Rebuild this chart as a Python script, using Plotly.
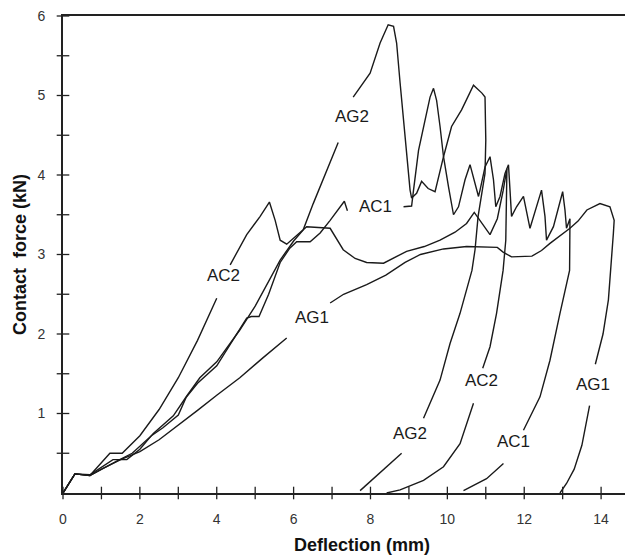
import plotly.graph_objects as go

# ---------------- data ----------------
# None marks a break in a line (where a label sits on the curve)
ac2_x = [0, 0.15, 0.31, 0.7, 1.0, 1.22, 1.54, 2.0, 2.5, 3.0, 3.5, 4.0, None,
         4.35, 4.78, 5.13, 5.37, 5.52, 5.65, 5.82, 6.04, 6.34, 6.95, 7.29, 7.6, 7.9,
         8.34, 8.94, 9.4, 9.81, 10.2, 10.5, 10.7, 10.9, 11.11, 11.3, 11.45, 11.55,
         11.54, 11.52, 11.45, 11.28, 11.11, 10.92, None,
         10.68, 10.33, 9.9, 9.38, 8.77, 8.42]
ac2_y = [0, 0.12, 0.24, 0.22, 0.38, 0.5, 0.5, 0.72, 1.05, 1.45, 1.92, 2.45, None,
         2.87, 3.25, 3.48, 3.66, 3.43, 3.18, 3.13, 3.22, 3.35, 3.33, 3.06, 2.95, 2.9,
         2.89, 3.04, 3.1, 3.18, 3.28, 3.39, 3.53, 3.4, 3.25, 3.45, 3.8, 4.08,
         3.81, 3.18, 2.8, 2.26, 1.84, 1.57, None,
         1.13, 0.62, 0.33, 0.16, 0.04, 0.0]

ag2_x = [0, 0.15, 0.31, 0.7, 1.0, 1.3, 1.66, 2.0, 2.35, 2.87, 3.22, 3.56, 4.0,
         4.6, 5.0, 5.3, 5.65, 6.0, 6.25, 6.51, 6.86, 7.16, None,
         7.55, 7.99, 8.25, 8.46, 8.6, 8.68, 8.77, 8.86, 8.95, 9.03, 9.07,
         9.2, 9.33, 9.5, 9.68, 9.81, 9.9, 10.11, 10.37, 10.68, 10.9, 10.98,
         11.0, 10.98, 10.8, 10.72, 10.64, 10.33, 10.07, 9.81, 9.38, None,
         8.81, 8.25, 7.73]
ag2_y = [0, 0.12, 0.24, 0.23, 0.33, 0.42, 0.42, 0.55, 0.75, 0.97, 1.22, 1.45, 1.65,
         2.05, 2.35, 2.62, 2.93, 3.17, 3.31, 3.64, 4.06, 4.41, None,
         4.98, 5.28, 5.66, 5.89, 5.87, 5.66, 5.16, 4.69, 4.2, 3.81, 3.71,
         3.77, 3.92, 3.83, 3.79, 4.06, 4.23, 4.61, 4.82, 5.13, 5.03, 4.98,
         4.44, 4.02, 3.48, 3.06, 2.8, 2.26, 1.88, 1.42, 0.94, None,
         0.5, 0.25, 0.03]

ac1_x = [0, 0.15, 0.31, 0.7, 1.0, 1.4, 1.8, 2.3, 2.6, 3.0, 3.2, 3.5, 4.0,
         4.78, 4.9, 5.1, 5.35, 5.65, 5.9, 6.08, 6.43, 6.69, 6.95, 7.2, 7.32, 7.4, None,
         8.86, 9.07, 9.12, 9.25, 9.42, 9.55, 9.64, 9.72, 9.81, 9.9, 10.03, 10.16,
         10.29, 10.46, 10.59, 10.72, 10.81, 10.85, 10.98, 11.11, 11.2, 11.26,
         11.37, 11.5, 11.59, 11.63, 11.67, 11.8, 11.98, 12.15, 12.33, 12.45,
         12.54, 12.58, 12.76, 12.89, 13.0, 13.06, 13.1, 13.19, 13.18,
         12.93, 12.67, 12.41, 11.98, None,
         11.46, 11.02, 10.42]
ac1_y = [0, 0.12, 0.24, 0.22, 0.3, 0.4, 0.5, 0.72, 0.82, 0.98, 1.2, 1.38, 1.6,
         2.2, 2.22, 2.22, 2.5, 2.9, 3.08, 3.16, 3.16, 3.27, 3.43, 3.6, 3.67, 3.55, None,
         3.6, 3.61, 3.81, 4.31, 4.69, 4.98, 5.09, 4.94, 4.61, 4.23, 3.85, 3.5,
         3.6, 3.94, 4.13, 3.9, 3.73, 3.81, 4.1, 4.23, 3.94, 3.6,
         3.73, 4.02, 4.13, 3.81, 3.48, 3.6, 3.73, 3.33, 3.6, 3.81,
         3.48, 3.18, 3.35, 3.6, 3.79, 3.56, 3.33, 3.45, 2.8,
         2.26, 1.67, 1.21, 0.79, None,
         0.37, 0.18, 0.03]

ag1_x = [0, 0.15, 0.31, 0.7, 1.0, 1.5, 2.0, 2.5, 3.0, 3.5, 4.0, 4.6, 5.2, 5.82, None,
         6.95, 7.3, 7.9, 8.4, 8.9, 9.3, 9.9, 10.5, 11.3, 11.45, 11.67, 12.2, 12.45,
         12.67, 13.19, 13.4, 13.63, 13.97, 14.23, 14.34, 14.32, 14.19, 14.05, 13.85, None,
         13.7, 13.5, 13.3, 13.1, 12.93]
ag1_y = [0, 0.12, 0.24, 0.22, 0.3, 0.42, 0.52, 0.67, 0.85, 1.04, 1.23, 1.45, 1.7, 1.95, None,
         2.39, 2.5, 2.62, 2.74, 2.9, 3.0, 3.07, 3.1, 3.09, 3.03, 2.97, 2.98, 3.05,
         3.14, 3.33, 3.42, 3.56, 3.64, 3.6, 3.43, 3.27, 2.43, 2.0, 1.62, None,
         1.1, 0.6, 0.3, 0.12, 0.0]

series = {"AC2": (ac2_x, ac2_y), "AG2": (ag2_x, ag2_y),
          "AC1": (ac1_x, ac1_y), "AG1": (ag1_x, ag1_y)}

# curve labels: text, x, y
label_text = ["AC2", "AG2", "AC1", "AG1", "AG2", "AC2", "AC1", "AG1"]
label_x = [4.17, 7.51, 8.12, 6.48, 9.03, 10.89, 11.72, 13.8]
label_y = [2.73, 4.73, 3.6, 2.21, 0.75, 1.42, 0.65, 1.36]

x_ticks = list(range(0, 15))
x_ticktext = [str(v) if v % 2 == 0 else "" for v in x_ticks]
y_ticks = [0.5 * i for i in range(1, 13)]
y_ticktext = [str(int(v)) if v == int(v) else "" for v in y_ticks]

X_RANGE = [0, 14.83]
Y_RANGE = [0, 6]

INK = "#1a1a1a"

# ---------------- figure ----------------
fig = go.Figure()
for name, (xs, ys) in series.items():
    fig.add_trace(go.Scatter(x=xs, y=ys, mode="lines", name=name,
                             line=dict(color=INK, width=1.4),
                             connectgaps=False, showlegend=False,
                             hoverinfo="skip"))

# tick marks that cross the axis lines (drawn at the tick values)
fig.add_trace(go.Scatter(x=x_ticks, y=[Y_RANGE[0]] * len(x_ticks), mode="markers",
                         marker=dict(symbol="line-ns-open", size=9, color="#222",
                                     line=dict(color="#222", width=1.3)),
                         cliponaxis=False, showlegend=False, hoverinfo="skip"))
fig.add_trace(go.Scatter(x=[X_RANGE[0]] * len(y_ticks), y=y_ticks, mode="markers",
                         marker=dict(symbol="line-ew-open", size=9, color="#222",
                                     line=dict(color="#222", width=1.3)),
                         cliponaxis=False, showlegend=False, hoverinfo="skip"))

font_main = "Liberation Sans, Arial, sans-serif"
for t, xv, yv in zip(label_text, label_x, label_y):
    fig.add_annotation(x=xv, y=yv, text=t, showarrow=False,
                       font=dict(family=font_main, size=17, color=INK))

# the page adds an 8 px body margin, so the figure is sized/offset to compensate
axis_common = dict(showgrid=False, zeroline=False, automargin=False,
                   ticklabeloverflow="allow")
fig.update_layout(
    width=625, height=550,
    margin=dict(l=55, r=0, t=8, b=65),
    paper_bgcolor="white", plot_bgcolor="white",
    xaxis=dict(range=X_RANGE, tickmode="array", tickvals=x_ticks, ticktext=x_ticktext,
               ticks="", showline=True, linecolor="#222", linewidth=1.6,
               mirror=True,
               tickfont=dict(family=font_main, size=14, color="#333"),
               ticklabelstandoff=12, **axis_common),
    yaxis=dict(range=Y_RANGE, tickmode="array", tickvals=y_ticks, ticktext=y_ticktext,
               ticks="", showline=True, linecolor="#222", linewidth=1.6,
               tickfont=dict(family=font_main, size=14, color="#333"),
               ticklabelstandoff=13, **axis_common),
)

fig.add_annotation(xref="paper", yref="paper", x=0.5246, y=-0.109,
                   xanchor="center", yanchor="middle",
                   text="<b>Deflection (mm)</b>", showarrow=False,
                   font=dict(family=font_main, size=18, color="#111"))
fig.add_annotation(xref="paper", yref="paper", x=-0.0754, y=0.499,
                   xanchor="center", yanchor="middle",
                   text="<b>Contact\u00a0 force (kN)</b>", showarrow=False, textangle=-90,
                   font=dict(family=font_main, size=18, color="#111"))

fig.write_html("out.html")
